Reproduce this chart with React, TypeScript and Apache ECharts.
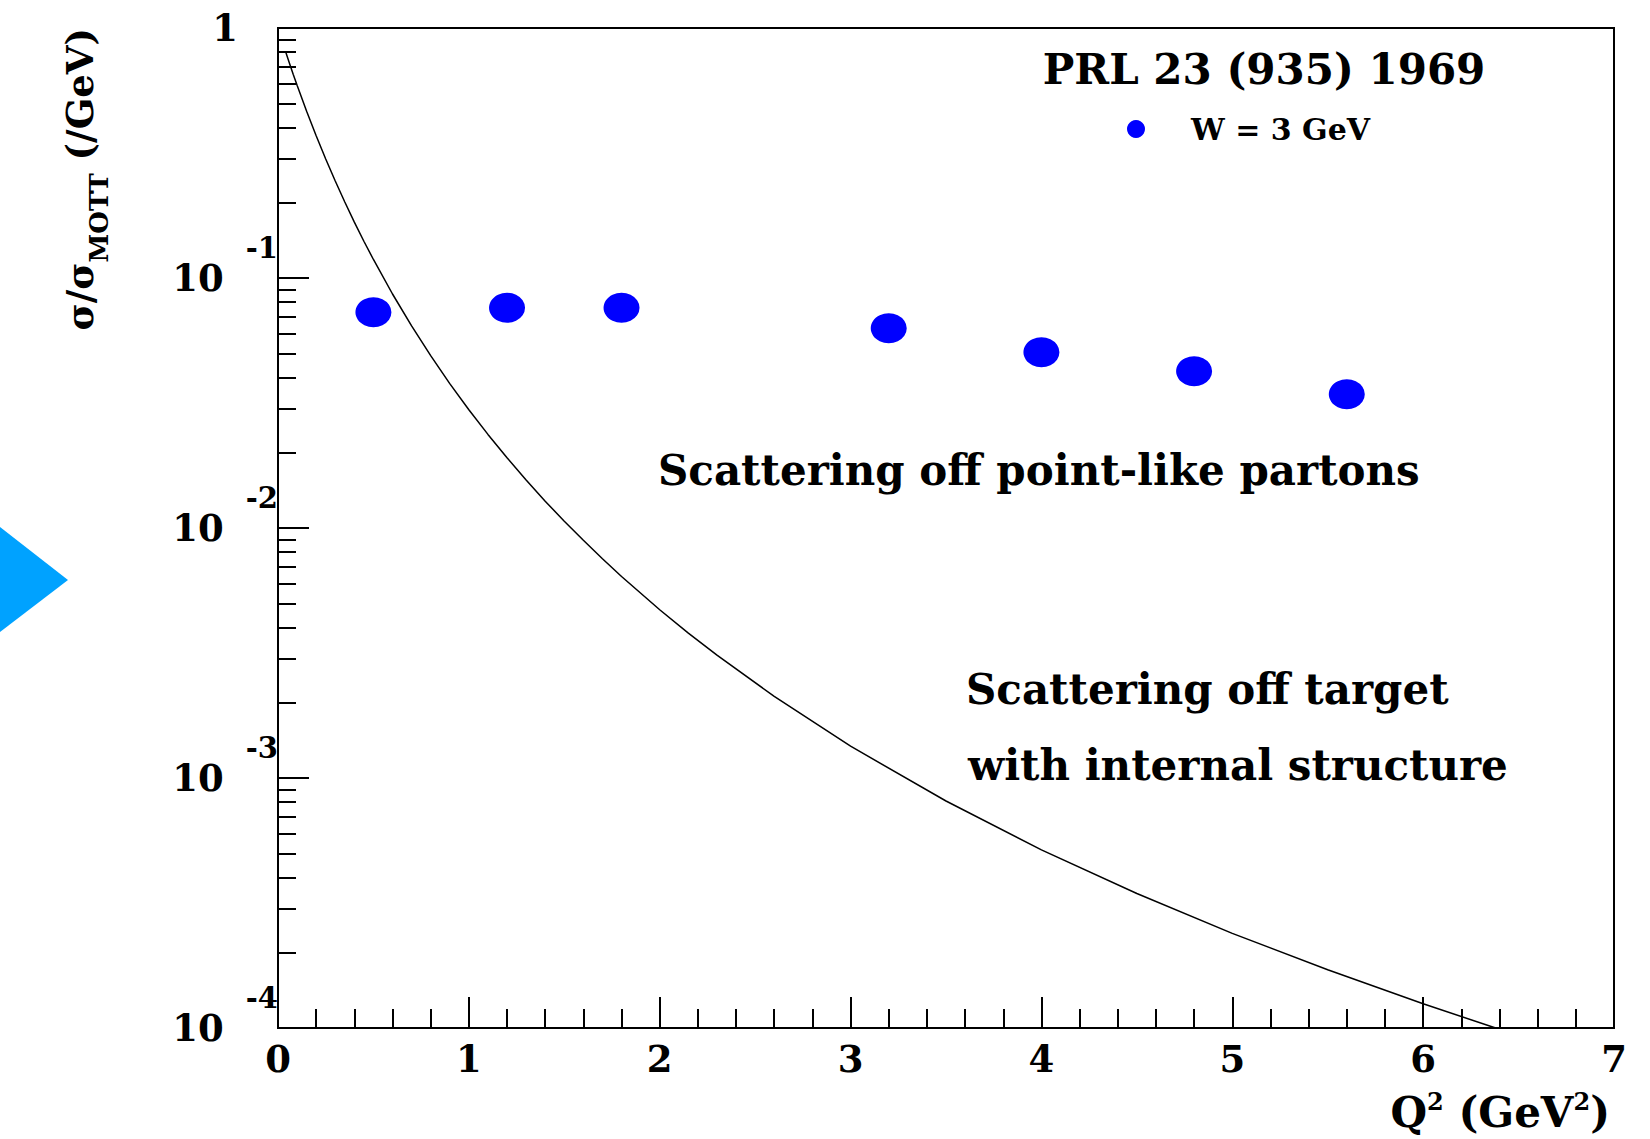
import React, { useEffect, useRef } from 'react';
import * as echarts from 'echarts';

// Measured points (W = 3 GeV)
const pointQ2 = [0.5, 1.2, 1.8, 3.2, 4.0, 4.8, 5.6];
const pointSigma = [0.073, 0.076, 0.076, 0.063, 0.0505, 0.0424, 0.0343];

// Curve (scattering off target with internal structure)
const curveQ2 = [0.04, 0.06, 0.08, 0.1, 0.15, 0.2, 0.25, 0.3, 0.35, 0.4, 0.45, 0.5, 0.6, 0.7, 0.8, 0.9, 1.0, 1.1, 1.2, 1.3, 1.4, 1.5, 1.6, 1.7, 1.8, 2.0, 2.15, 2.3, 2.6, 3.0, 3.5, 4.0, 4.5, 5.0, 5.5, 6.0, 6.38];
const curveSigma = [0.803, 0.723, 0.652, 0.59, 0.4645, 0.3705, 0.2992, 0.2442, 0.2013, 0.1674, 0.1403, 0.1186, 0.0863, 0.0643, 0.0489, 0.0378, 0.0297, 0.02368, 0.0191, 0.01557, 0.0128, 0.01065, 0.00893, 0.00753, 0.0064, 0.00471, 0.0038, 0.0031, 0.00212, 0.00134, 0.000809, 0.000516, 0.000345, 0.000239, 0.000171, 0.000125, 0.0001];

// Axis ticks
const yMajorTicks = [1e-4, 1e-3, 1e-2, 1e-1, 1];
const yMinorMultipliers = [2, 3, 4, 5, 6, 7, 8, 9];
const yMinorTicks: number[] = [];
for (const d of [1e-4, 1e-3, 1e-2, 1e-1]) {
  for (const m of yMinorMultipliers) yMinorTicks.push(d * m);
}

const SERIF = "'DejaVu Serif', serif";

export default function App() {
  const ref = useRef<HTMLDivElement>(null);

  useEffect(() => {
    if (!ref.current) return;
    const chart = echarts.init(ref.current, null, { renderer: 'svg' });

    const option: any = {
      animation: false,
      backgroundColor: '#ffffff',
      grid: {
        left: 278,
        right: 36,
        top: 28,
        bottom: 111,
        show: true,
        borderColor: '#000',
        borderWidth: 2,
        backgroundColor: 'transparent',
        containLabel: false,
      },
      legend: {
        data: ['W = 3 GeV'],
        left: 1122,
        top: 109,
        icon: 'circle',
        itemWidth: 28,
        itemHeight: 18,
        itemStyle: { color: '#0000ff' },
        formatter: (name: string) => `{t|${name}}`,
        textStyle: {
          rich: {
            t: {
              fontFamily: SERIF,
              fontWeight: 'bold',
              fontSize: 30,
              color: '#000',
              lineHeight: 34,
              padding: [0, 0, 0, 36],
            },
          },
        },
      },
      xAxis: {
        type: 'value',
        min: 0,
        max: 7,
        interval: 1,
        axisLine: { show: true, lineStyle: { color: '#000', width: 2 } },
        axisTick: { show: true, inside: true, length: 31, lineStyle: { color: '#000', width: 2 } },
        minorTick: { show: true, splitNumber: 5, length: 19, lineStyle: { color: '#000', width: 2 } },
        splitLine: { show: false },
        minorSplitLine: { show: false },
        axisLabel: {
          margin: 11,
          fontFamily: SERIF,
          fontWeight: 'bold',
          fontSize: 37,
          lineHeight: 40,
          color: '#000',
          showMinLabel: true,
          showMaxLabel: true,
        },
      },
      yAxis: [
        {
          type: 'log',
          logBase: 10,
          min: 1e-4,
          max: 1,
          position: 'left',
          axisLine: { show: true, lineStyle: { color: '#000', width: 2 } },
          axisTick: {
            show: true,
            inside: true,
            length: 31,
            customValues: yMajorTicks,
            lineStyle: { color: '#000', width: 2 },
          },
          splitLine: { show: false },
          axisLabel: {
            margin: 0,
            customValues: yMajorTicks,
            formatter: (v: number) => {
              const e = Math.round(Math.log10(v));
              if (e === 0) return '{one|1}';
              return `{b|10}{g|}{e|${e}}`;
            },
            rich: {
              one: {
                fontFamily: SERIF,
                fontWeight: 'bold',
                fontSize: 37,
                lineHeight: 40,
                color: '#000',
                verticalAlign: 'middle',
                padding: [0, 40, 0, 0],
              },
              b: {
                fontFamily: SERIF,
                fontWeight: 'bold',
                fontSize: 37,
                lineHeight: 90,
                color: '#000',
                verticalAlign: 'middle',
              },
              g: {
                width: 22,
                lineHeight: 10,
                fontSize: 10,
              },
              e: {
                fontFamily: SERIF,
                fontWeight: 'bold',
                fontSize: 29,
                lineHeight: 30,
                color: '#000',
                verticalAlign: 'top',
              },
            },
          },
        },
        {
          type: 'log',
          logBase: 10,
          min: 1e-4,
          max: 1,
          position: 'left',
          axisLine: { show: false },
          axisLabel: { show: false },
          splitLine: { show: false },
          axisTick: {
            show: true,
            inside: true,
            length: 18,
            customValues: yMinorTicks,
            lineStyle: { color: '#000', width: 2 },
          },
        },
      ],
      graphic: [
        {
          type: 'polygon',
          shape: { points: [[0, 527], [68, 580], [0, 632]] },
          style: { fill: '#00A2FF' },
          silent: true,
        },
        {
          type: 'text',
          x: 80,
          y: 28,
          rotation: Math.PI / 2,
          style: {
            text: '{a|σ/σ}{s|MOTT}{a| (/GeV)}',
            align: 'right',
            verticalAlign: 'middle',
            rich: {
              a: {
                fontFamily: SERIF,
                fontWeight: 'bold',
                fontSize: 37,
                lineHeight: 64,
                fill: '#000',
                verticalAlign: 'middle',
              },
              s: {
                fontFamily: SERIF,
                fontWeight: 'bold',
                fontSize: 26,
                lineHeight: 26,
                fill: '#000',
                verticalAlign: 'bottom',
              },
            },
          },
        },
        {
          type: 'text',
          x: 1610,
          y: 1111,
          style: {
            text: '{q|Q}{p|2}{q| (GeV}{p|2}{q|)}',
            align: 'right',
            verticalAlign: 'middle',
            rich: {
              q: {
                fontFamily: SERIF,
                fontWeight: 'bold',
                fontSize: 42,
                lineHeight: 44,
                fill: '#000',
                verticalAlign: 'bottom',
              },
              p: {
                fontFamily: SERIF,
                fontWeight: 'bold',
                fontSize: 24,
                lineHeight: 20,
                fill: '#000',
                verticalAlign: 'top',
              },
            },
          },
        },
        {
          type: 'text',
          x: 1264,
          y: 69,
          style: {
            text: 'PRL 23 (935) 1969',
            fontFamily: SERIF,
            fontWeight: 'bold',
            fontSize: 42,
            fill: '#000',
            align: 'center',
            verticalAlign: 'middle',
          },
        },
        {
          type: 'text',
          x: 658,
          y: 470,
          style: {
            text: 'Scattering off point-like partons',
            fontFamily: SERIF,
            fontWeight: 'bold',
            fontSize: 42,
            fill: '#000',
            align: 'left',
            verticalAlign: 'middle',
          },
        },
        {
          type: 'text',
          x: 966,
          y: 689,
          style: {
            text: 'Scattering off target',
            fontFamily: SERIF,
            fontWeight: 'bold',
            fontSize: 42,
            fill: '#000',
            align: 'left',
            verticalAlign: 'middle',
          },
        },
        {
          type: 'text',
          x: 968,
          y: 765,
          style: {
            text: 'with internal structure',
            fontFamily: SERIF,
            fontWeight: 'bold',
            fontSize: 42,
            fill: '#000',
            align: 'left',
            verticalAlign: 'middle',
          },
        },
      ],
      series: [
        {
          name: 'Target with structure',
          type: 'line',
          yAxisIndex: 0,
          data: curveQ2.map((q, i) => [q, curveSigma[i]]),
          showSymbol: false,
          smooth: false,
          lineStyle: { color: '#000', width: 1.5 },
          itemStyle: { color: '#000' },
          silent: true,
          z: 2,
        },
        {
          name: 'W = 3 GeV',
          type: 'scatter',
          yAxisIndex: 0,
          data: pointQ2.map((q, i) => [q, pointSigma[i]]),
          symbol: 'circle',
          symbolSize: [36, 30],
          itemStyle: { color: '#0000ff', opacity: 1 },
          z: 3,
        },
      ],
    };

    chart.setOption(option);
    return () => chart.dispose();
  }, []);

  return (
    <div
      ref={ref}
      style={{ position: 'fixed', left: 0, top: 0, width: 1650, height: 1139, background: '#fff' }}
    />
  );
}
